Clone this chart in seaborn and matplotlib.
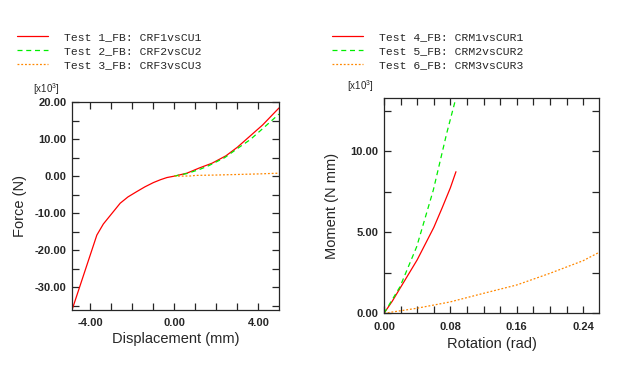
import numpy as np
import pandas as pd
import seaborn as sns
import matplotlib
matplotlib.use('Agg')
import matplotlib.pyplot as plt
from matplotlib.ticker import MultipleLocator, FormatStrFormatter

# force vs displacement (x10^3 N)
disp_1 = [-4.86, -3.68, -3.37, -2.57, -2.2, -1.78, -1.4, -0.99, -0.65, -0.35, 0.0,
          0.6, 1.19, 1.8, 2.46, 3.0, 3.58, 4.2, 4.98]
force_1 = [-36.1, -15.9, -12.9, -7.3, -5.6, -4.16, -2.9, -1.73, -0.95, -0.38, 0.0,
           0.8, 2.2, 3.5, 5.5, 7.8, 10.7, 13.8, 18.4]
disp_2 = [0.0, 0.6, 1.2, 1.63, 2.4, 3.14, 3.6, 4.26, 4.98]
force_2 = [0.0, 0.7, 1.8, 2.8, 5.0, 8.0, 9.8, 13.1, 16.75]
disp_3 = [0.0, 0.4, 0.8, 1.0, 2.0, 3.0, 4.0, 4.98]
force_3 = [0.0, 0.02, 0.05, 0.2, 0.3, 0.45, 0.6, 0.8]

# moment vs rotation (x10^3 N mm)
rot_4 = [0.0, 0.01, 0.02, 0.03, 0.04, 0.05, 0.06, 0.07, 0.08, 0.0867]
mom_4 = [0.0, 0.75, 1.6, 2.45, 3.3, 4.3, 5.3, 6.5, 7.75, 8.74]
rot_5 = [0.0, 0.0193, 0.0394, 0.0594, 0.0755, 0.0855]
mom_5 = [0.0, 1.64, 4.11, 7.6, 11.1, 13.06]
rot_6 = [0.0, 0.0394, 0.0795, 0.1197, 0.16, 0.2, 0.24, 0.2594]
mom_6 = [0.0, 0.31, 0.70, 1.23, 1.75, 2.47, 3.25, 3.77]

labels_l = ['Test 1_FB: CRF1vsCU1', 'Test 2_FB: CRF2vsCU2', 'Test 3_FB: CRF3vsCU3']
labels_r = ['Test 4_FB: CRM1vsCUR1', 'Test 5_FB: CRM2vsCUR2', 'Test 6_FB: CRM3vsCUR3']

sns.set_style('ticks')
plt.rcParams['font.family'] = ['Liberation Sans', 'DejaVu Sans']
plt.rcParams['mathtext.fontset'] = 'custom'
plt.rcParams['mathtext.rm'] = 'Liberation Sans'

colors = ['#ff0000', '#00ee00', '#ff8800']
styles = ['-', (0, (4, 3)), (0, (1.5, 1.5))]

fig = plt.figure(figsize=(6.3, 3.67), dpi=100)
ax1 = fig.add_axes([0.1143, 0.1553, 0.3286, 0.5668])
ax2 = fig.add_axes([0.6095, 0.1463, 0.3418, 0.5858])

for xs, ys, c, ls, lab in zip([disp_1, disp_2, disp_3], [force_1, force_2, force_3], colors, styles, labels_l):
    sns.lineplot(x=xs, y=ys, ax=ax1, color=c, linestyle=ls, lw=0.9, sort=False,
                 estimator=None, label=lab)
for xs, ys, c, ls, lab in zip([rot_4, rot_5, rot_6], [mom_4, mom_5, mom_6], colors, styles, labels_r):
    sns.lineplot(x=xs, y=ys, ax=ax2, color=c, linestyle=ls, lw=0.9, sort=False,
                 estimator=None, label=lab)

ax1.set_xlim(-4.86, 4.98)
ax1.set_ylim(-36.1, 20)
ax1.xaxis.set_major_locator(MultipleLocator(4))
ax1.xaxis.set_minor_locator(MultipleLocator(1))
ax1.yaxis.set_major_locator(MultipleLocator(10))
ax1.yaxis.set_minor_locator(MultipleLocator(5))

ax2.set_xlim(0, 0.2594)
ax2.set_ylim(0, 13.27)
ax2.xaxis.set_major_locator(MultipleLocator(0.08))
ax2.xaxis.set_minor_locator(MultipleLocator(0.02))
ax2.yaxis.set_major_locator(MultipleLocator(5))
ax2.yaxis.set_minor_locator(MultipleLocator(2.5))

for ax in (ax1, ax2):
    ax.xaxis.set_major_formatter(FormatStrFormatter('%.2f'))
    ax.yaxis.set_major_formatter(FormatStrFormatter('%.2f'))
    ax.tick_params(which='both', direction='in', top=True, right=True, length=5, width=0.9,
                   labelsize=8)
    ax.tick_params(axis='x', pad=6)
    ax.tick_params(axis='y', pad=4)
    for lbl in ax.get_xticklabels() + ax.get_yticklabels():
        lbl.set_fontweight('bold')
    for sp in ax.spines.values():
        sp.set_linewidth(0.9)

ax1.set_xlabel('Displacement (mm)', fontsize=10.5)
ax1.set_ylabel('Force (N)', fontsize=10.5)
ax2.set_xlabel('Rotation (rad)', fontsize=10.5)
ax2.set_ylabel('Moment (N mm)', fontsize=10.5)
ax1.xaxis.set_label_coords(0.5, -0.14)
ax1.yaxis.set_label_coords(-0.25, 0.5)
ax2.xaxis.set_label_coords(0.5, -0.145)
ax2.yaxis.set_label_coords(-0.243, 0.5)
for ax in (ax1, ax2):
    ax.xaxis.label.set_va('center')
    ax.yaxis.label.set_va('center')

fig.text(46 / 630, 1 - 89 / 367, '[x10$^3$]', fontsize=7, ha='center', va='center')
fig.text(360 / 630, 1 - 86 / 367, '[x10$^3$]', fontsize=7, ha='center', va='center')

mono = {'family': 'Liberation Mono', 'size': 8.2}
for ax, x0 in ((ax1, 17), (ax2, 332)):
    ax.legend(loc='upper left', bbox_to_anchor=(x0 / 630, 1 - 32 / 367), bbox_transform=fig.transFigure,
              frameon=False, prop=mono, handlelength=2.7, handletextpad=1.4, labelspacing=0.35,
              borderpad=0, borderaxespad=0)

fig.savefig('out.png', dpi=100)
